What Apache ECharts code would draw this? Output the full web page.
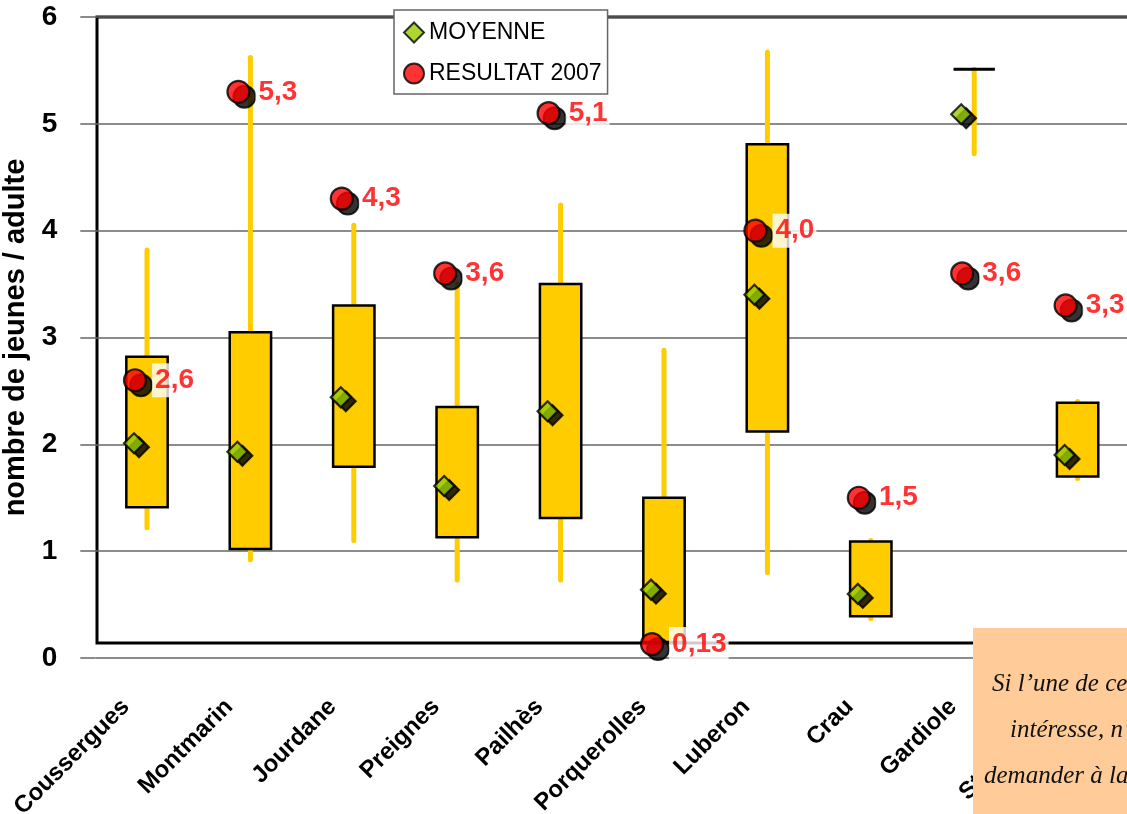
<!DOCTYPE html>
<html>
<head>
<meta charset="utf-8">
<script src="https://cdn.jsdelivr.net/npm/echarts@6/dist/echarts.min.js"></script>
<style>
html,body{margin:0;padding:0;background:#fff;}
#chart{width:1127px;height:814px;}
</style>
</head>
<body>
<div id="chart"></div>
<script>
var categories = ['Coussergues','Montmarin','Jourdane','Preignes','Pailhès','Porquerolles','Luberon','Crau','Gardiole','Ste Victoire'];
var whiskerLow  = [1.22, 0.92, 1.10, 0.73, 0.73, 0.15, 0.80, 0.37, 4.72, 1.68];
var whiskerHigh = [3.82, 5.62, 4.05, 3.50, 4.24, 2.88, 5.67, 1.10, 5.51, 2.40];
var boxLow      = [1.41, 1.02, 1.79, 1.13, 1.31, 0.15, 2.12, 0.39, 5.51, 1.70];
var boxHigh     = [2.82, 3.05, 3.30, 2.35, 3.50, 1.50, 4.81, 1.09, 5.51, 2.39];
var moyenne     = [2.01, 1.93, 2.44, 1.61, 2.31, 0.64, 3.40, 0.60, 5.09, 1.90];
var resultat2007 = [2.6, 5.3, 4.3, 3.6, 5.1, 0.13, 4.0, 1.5, 3.6, 3.3];
var resultLabels = ['2,6','5,3','4,3','3,6','5,1','0,13','4,0','1,5','3,6','3,3'];
var yTicks = [0, 1, 2, 3, 4, 5, 6];
var noteLines = ['Si l\u2019une de ces réserves vous', 'intéresse, n\u2019hésitez pas à', 'demander à la réserve son', 'rapport annuel'];

var YELLOW = '#FFCC00';
var FONT = '"Liberation Sans", Arial, sans-serif';
var chart = echarts.init(document.getElementById('chart'));

var whiskerData = categories.map(function (c, i) { return [i, whiskerLow[i], whiskerHigh[i]]; });
var boxData = categories.map(function (c, i) { return [i, boxLow[i], boxHigh[i]]; });
var meanData = categories.map(function (c, i) { return [i, moyenne[i]]; });
var resData = categories.map(function (c, i) { return [i, resultat2007[i]]; });

var noteGraphics = [{
  type: 'rect', left: 973, top: 628, z: 100,
  shape: { width: 200, height: 200 },
  style: { fill: '#FFCC99' }
}];
var noteX = [992, 1010, 984, 1000];
noteLines.forEach(function (t, i) {
  noteGraphics.push({
    type: 'text', z: 101, x: noteX[i], y: 684 + i * 46,
    style: {
      text: t, fill: '#111',
      font: 'italic 25px "Liberation Serif", "DejaVu Serif", serif',
      textVerticalAlign: 'middle'
    }
  });
});

var option = {
  animation: false,
  backgroundColor: '#fff',
  grid: [
    { left: 95.3, right: -2.3, top: 17, bottom: 156, outerBoundsMode: 'none', containLabel: false },
    { left: 97, right: -10, top: 17, bottom: 171, outerBoundsMode: 'none', containLabel: false,
      show: true, borderColor: '#000', borderWidth: 3, backgroundColor: 'transparent' }
  ],
  legend: {
    orient: 'vertical', left: 394, top: 10,
    padding: [11, 6, 9, 9], itemGap: 18,
    itemWidth: 20, itemHeight: 20,
    backgroundColor: '#fff', borderColor: '#666', borderWidth: 1.5,
    data: ['MOYENNE', 'RESULTAT 2007'],
    textStyle: { fontSize: 23, color: '#000', fontFamily: FONT }
  },
  xAxis: [
    {
      type: 'category', data: categories, gridIndex: 0, boundaryGap: true,
      axisLine: { show: false }, axisTick: { show: false },
      axisLabel: {
        rotate: 45, margin: 24, fontSize: 24, fontWeight: 'bold', color: '#000',
        fontFamily: FONT, interval: 0,
        padding: [0, 30, 0, 0]
      }
    },
    { type: 'value', gridIndex: 1, show: false, min: 0, max: 1 }
  ],
  yAxis: [
    {
      type: 'value', gridIndex: 0, min: 0, max: 6, interval: 1,
      name: 'nombre de jeunes / adulte', nameLocation: 'middle', nameRotate: 90, nameGap: 62,
      nameTextStyle: { fontSize: 29, fontWeight: 'bold', color: '#000', fontFamily: FONT },
      axisLine: { show: false },
      axisTick: { show: true, length: 15, lineStyle: { color: '#666', width: 1.5 } },
      splitLine: { show: true, lineStyle: { color: '#666', width: 1.5 } },
      axisLabel: {
        margin: 38, fontSize: 28, fontWeight: 'bold', color: '#000',
        fontFamily: FONT,
        formatter: function (v) { return yTicks.indexOf(v) >= 0 ? String(v) : ''; }
      }
    },
    { type: 'value', gridIndex: 1, show: false, min: 0, max: 1 }
  ],
  graphic: noteGraphics,
  series: [
    {
      name: 'whisker', type: 'custom', xAxisIndex: 0, yAxisIndex: 0, z: 2,
      data: whiskerData, encode: { x: 0, y: [1, 2] },
      renderItem: function (params, api) {
        var x = api.value(0);
        var p1 = api.coord([x, api.value(1)]);
        var p2 = api.coord([x, api.value(2)]);
        return { type: 'line', shape: { x1: p1[0], y1: p1[1], x2: p2[0], y2: p2[1] },
          style: { stroke: YELLOW, lineWidth: 5, lineCap: 'round' } };
      }
    },
    {
      name: 'box', type: 'custom', xAxisIndex: 0, yAxisIndex: 0, z: 3,
      data: boxData, encode: { x: 0, y: [1, 2] },
      renderItem: function (params, api) {
        var x = api.value(0);
        var pLow = api.coord([x, api.value(1)]);
        var pHigh = api.coord([x, api.value(2)]);
        var w = api.size([1, 0])[0] * 0.4;
        var isFlat = Math.abs(pLow[1] - pHigh[1]) < 1;
        return { type: 'rect',
          shape: { x: pLow[0] - w / 2, y: pHigh[1], width: w, height: pLow[1] - pHigh[1] },
          style: { fill: YELLOW, stroke: '#000', lineWidth: isFlat ? 3 : 2.5 } };
      }
    },
    {
      name: 'moyShadow', type: 'scatter', z: 4, data: meanData,
      symbol: 'diamond', symbolSize: 20, symbolOffset: [-8, 4],
      itemStyle: { color: '#000', borderColor: '#000', borderWidth: 2 }, silent: true
    },
    {
      name: 'MOYENNE', type: 'scatter', z: 5, data: meanData,
      symbol: 'diamond', symbolSize: 20, symbolOffset: [-13, 0],
      itemStyle: { color: '#99CC00', borderColor: '#000', borderWidth: 2.2 }
    },
    {
      name: 'resShadow', type: 'scatter', z: 6, data: resData,
      symbol: 'circle', symbolSize: 22, symbolOffset: [-6, 5],
      itemStyle: { color: '#000', borderColor: '#000', borderWidth: 2 }, silent: true
    },
    {
      name: 'RESULTAT 2007', type: 'scatter', z: 7, data: resData,
      symbol: 'circle', symbolSize: 22, symbolOffset: [-12, 0],
      itemStyle: { color: '#FF0000', borderColor: '#000', borderWidth: 2.2 },
      label: {
        show: true, position: 'right', distance: 5,
        formatter: function (p) { return resultLabels[p.dataIndex]; },
        fontSize: 28, fontWeight: 'bold', color: '#FF0000',
        fontFamily: FONT,
        backgroundColor: '#fff', padding: [4, 2, 2, 3]
      }
    }
  ]
};
chart.setOption(option);
</script>
</body>
</html>
